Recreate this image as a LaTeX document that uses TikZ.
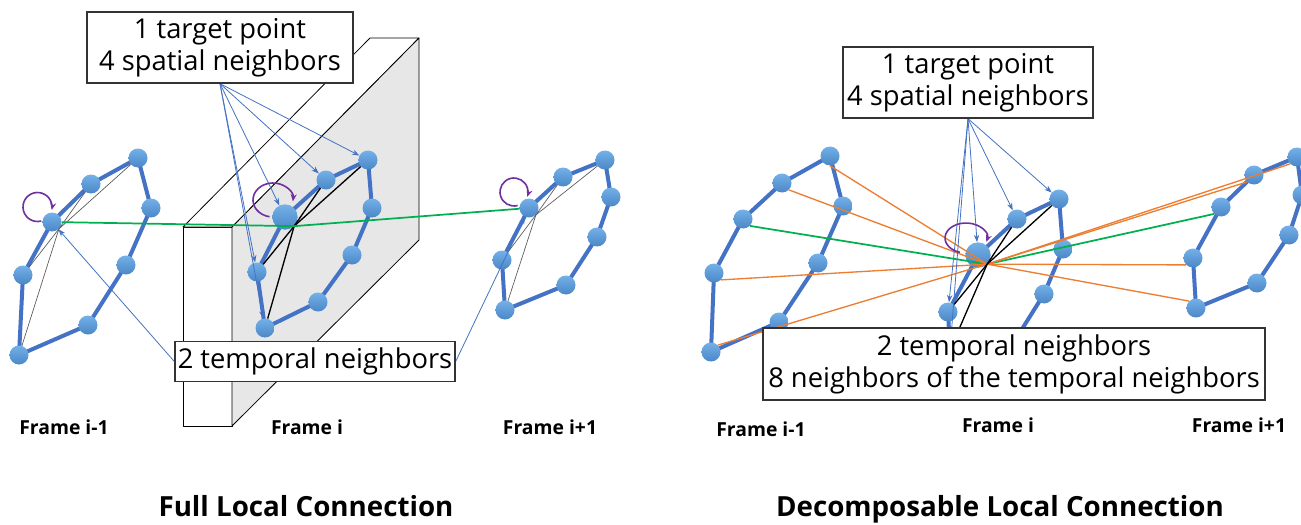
\documentclass[tikz,border=0pt]{standalone}
\usepackage{fontspec}
\setmainfont{Open Sans}
\usetikzlibrary{arrows.meta,calc}
\definecolor{bline}{HTML}{4472C4}
\definecolor{bnodeT}{HTML}{74B1E8}
\definecolor{bnodeB}{HTML}{4A87C6}
\definecolor{gline}{HTML}{00B050}
\definecolor{oline}{HTML}{ED7D31}
\definecolor{ploop}{HTML}{7030A0}
\definecolor{face}{HTML}{E6E7E6}
\pgfdeclarelayer{bg}
\pgfdeclarelayer{fg}
\pgfsetlayers{bg,main,fg}
\begin{document}
\begin{tikzpicture}[x=0.75pt,y=-0.75pt,
 kp/.style={circle,inner sep=0pt,minimum size=14.25pt,top color=bnodeT,bottom color=bnodeB,draw=none},
 bigkp/.style={kp,minimum size=19pt},
 ring/.style={draw=bline,line width=3pt,line join=round},
 gthin/.style={draw=black!65,line width=0.5pt},
 blk/.style={draw=black,line width=1pt},
 grn/.style={draw=gline,line width=1.3pt},
 org/.style={draw=oline,line width=1pt},
 barrow/.style={draw=bline,line width=0.6pt,-{Stealth[length=5.5pt,width=4pt]}},
 selfloop/.style={draw=ploop,line width=1.2pt,-{Stealth[length=5.5pt,width=4.5pt]}},
 lbox/.style={draw=black!80,line width=1pt,fill=white,align=center,inner sep=0pt,font=\fontsize{20.5}{24}\selectfont},
 flabel/.style={anchor=base,font=\bfseries\fontsize{14.5}{16}\selectfont},
 ttl/.style={anchor=base,font=\bfseries\fontsize{20.8}{22}\selectfont},
 slab/.style={draw=black,line width=0.6pt,line join=round}
]
\clip (0,0) rectangle (1301,524);

% ---------- boxes (front layer) ----------
\begin{pgfonlayer}{fg}
\node[lbox,minimum width=199.5pt,minimum height=53.25pt] (tb1) at (220,47.5) {1 target point\\4 spatial neighbors};
\node[lbox,minimum width=210pt,minimum height=30pt] (tp1) at (315,361.5) {2 temporal neighbors};
\node[lbox,minimum width=187.5pt,minimum height=53.25pt] (tb2) at (968,82.5) {1 target point\\4 spatial neighbors};
\node[lbox,minimum width=376.5pt,minimum height=54pt] (tp2) at (1014,364) {2 temporal neighbors\\8 neighbors of the temporal neighbors};
\end{pgfonlayer}

% ---------- background and slab ----------
\begin{pgfonlayer}{bg}
\fill[white] (0,0) rectangle (1301,524);
\filldraw[slab,fill=white] (183,227) rectangle (232,426);
\filldraw[slab,fill=white] (183,227) -- (370,38) -- (419,38) -- (232,227) -- cycle;
\filldraw[slab,fill=face] (232,227) -- (419,38) -- (419,240) -- (232,426) -- cycle;
\end{pgfonlayer}

% ---------- left panel nodes ----------
\node[kp] (A) at (138,158) {};
\node[kp] (B) at (91,184) {};
\node[kp] (C) at (52,222) {};
\node[kp] (D) at (23,275) {};
\node[kp] (E) at (19,355) {};
\node[kp] (F) at (151,208) {};
\node[kp] (G) at (126,265) {};
\node[kp] (H) at (88,325) {};

\node[bigkp] (T) at (285,217) {};
\node[kp] (N1) at (326,180) {};
\node[kp] (N2) at (368,160) {};
\node[kp] (N3) at (372,208) {};
\node[kp] (N4) at (352,255) {};
\node[kp] (N5) at (318,302) {};
\node[kp] (N6) at (265,328) {};
\node[kp] (N7) at (257,272) {};

\node[kp] (A2) at (605,160) {};
\node[kp] (B2) at (563,177) {};
\node[kp] (C2) at (529,208) {};
\node[kp] (D2) at (502,260) {};
\node[kp] (E2) at (505,310) {};
\node[kp] (F2) at (611,197) {};
\node[kp] (G2) at (597,237) {};
\node[kp] (H2) at (566,285) {};

% ---------- right panel nodes ----------
\node[kp] (a1) at (830,156) {};
\node[kp] (a2) at (782,183) {};
\node[kp] (a3) at (743,219) {};
\node[kp] (a4) at (714,273) {};
\node[kp] (a5) at (711,352) {};
\node[kp] (a6) at (843,206) {};
\node[kp] (a7) at (818,263) {};
\node[kp] (a8) at (779,322) {};

\node[bigkp] (U) at (978,255) {};
\node[kp] (n1) at (1017,219) {};
\node[kp] (n2) at (1059,199) {};
\node[kp] (n3) at (1063,249) {};
\node[kp] (n4) at (1044,294) {};
\node[kp] (n5) at (1012,345) {};
\node[kp] (n6) at (950,350) {};
\node[kp] (n7) at (948,312) {};

\node[kp] (b1) at (1297,157) {};
\node[kp] (b2) at (1254,175) {};
\node[kp] (b3) at (1221,207) {};
\node[kp] (b4) at (1193,258) {};
\node[kp] (b5) at (1196,308) {};
\node[kp] (b6) at (1302,195) {};
\node[kp] (b7) at (1289,235) {};
\node[kp] (b8) at (1257,283) {};

% ---------- skeleton rings ----------
\begin{pgfonlayer}{bg}
\draw[ring] (A.center) -- (B.center) -- (C.center) -- (D.center) -- (E.center) -- (H.center) -- (G.center) -- (F.center) -- cycle;
\draw[ring] (N2.center) -- (N1.center) -- (T.center) -- (N7.center) -- (N6.center) -- (N5.center) -- (N4.center) -- (N3.center) -- cycle;
\draw[ring] (A2.center) -- (B2.center) -- (C2.center) -- (D2.center) -- (E2.center) -- (H2.center) -- (G2.center) -- (F2.center) -- cycle;
\draw[ring] (a1.center) -- (a2.center) -- (a3.center) -- (a4.center) -- (a5.center) -- (a8.center) -- (a7.center) -- (a6.center) -- cycle;
\draw[ring] (n2.center) -- (n1.center) -- (U.center) -- (n7.center) -- (n6.center) -- (n5.center) -- (n4.center) -- (n3.center) -- cycle;
\draw[ring] (b1.center) -- (b2.center) -- (b3.center) -- (b4.center) -- (b5.center) -- (b8.center) -- (b7.center) -- (b6.center) -- cycle;
\end{pgfonlayer}

% ---------- left panel connections ----------
\foreach \m in {A,B,D,E} \draw[gthin] (C.south east) -- (\m);
\foreach \m in {A2,B2,D2,E2} \draw[gthin] (C2.south east) -- (\m);
\foreach \m in {N1,N2,N7,N6} \draw[blk] (T.south east) -- (\m);
\draw[grn] (C) -- (T.south east) -- (C2);
\foreach \m in {T,N1,N2,N7,N6} \draw[barrow] (tb1.south) -- (\m);
\draw[barrow] (tp1.west) -- (C);
\draw[barrow] (tp1.east) -- (C2);

\draw[selfloop] ($(C)+(-14.5,-15)$) ++(75:14.5) arc[start angle=75,end angle=372,radius=14.5];
\draw[selfloop] ($(T)+(-12,-17)$) ++(100:20 and 17) arc[start angle=100,end angle=365,x radius=20,y radius=17];
\draw[selfloop] ($(C2)+(-15,-16)$) ++(75:14) arc[start angle=75,end angle=380,radius=14];

% ---------- right panel connections ----------
\draw[grn] (a3.south east) -- (U.south east) -- (b3.south west);
\draw[org] (U.south east) -- (a1.south);
\draw[org] (U.south east) -- (a2.south east);
\draw[org] (U.south east) -- (a4.south east);
\draw[org] (U.south east) -- (a5.north east);
\draw[org] (U.south east) -- (b1.south west);
\draw[org] (U.south east) -- (b2.south west);
\draw[org] (U.south east) -- (b4.south west);
\draw[org] (U.south east) -- (b5.north west);
\foreach \m in {n1,n2,n7,n6} \draw[blk] (U.south east) -- (\m);
\foreach \m in {U,n1,n2,n7,n6} \draw[barrow] (tb2.south) -- (\m);
\draw[selfloop] ($(U)+(-12,-17)$) ++(107:21 and 15) arc[start angle=107,end angle=375,x radius=21,y radius=15];

% ---------- labels ----------
\node[flabel] (f1) at (64,434) {Frame i-1};
\node[flabel] (f2) at (307,434) {Frame i};
\node[flabel] (f3) at (550,434) {Frame i+1};
\node[flabel] (f4) at (761,436) {Frame i-1};
\node[flabel] (f5) at (998,432) {Frame i};
\node[flabel] (f6) at (1239,432) {Frame i+1};
\node[ttl] (t1) at (306,516) {Full Local Connection};
\node[ttl] (t2) at (1000,516) {Decomposable Local Connection};
\end{tikzpicture}
\end{document}
